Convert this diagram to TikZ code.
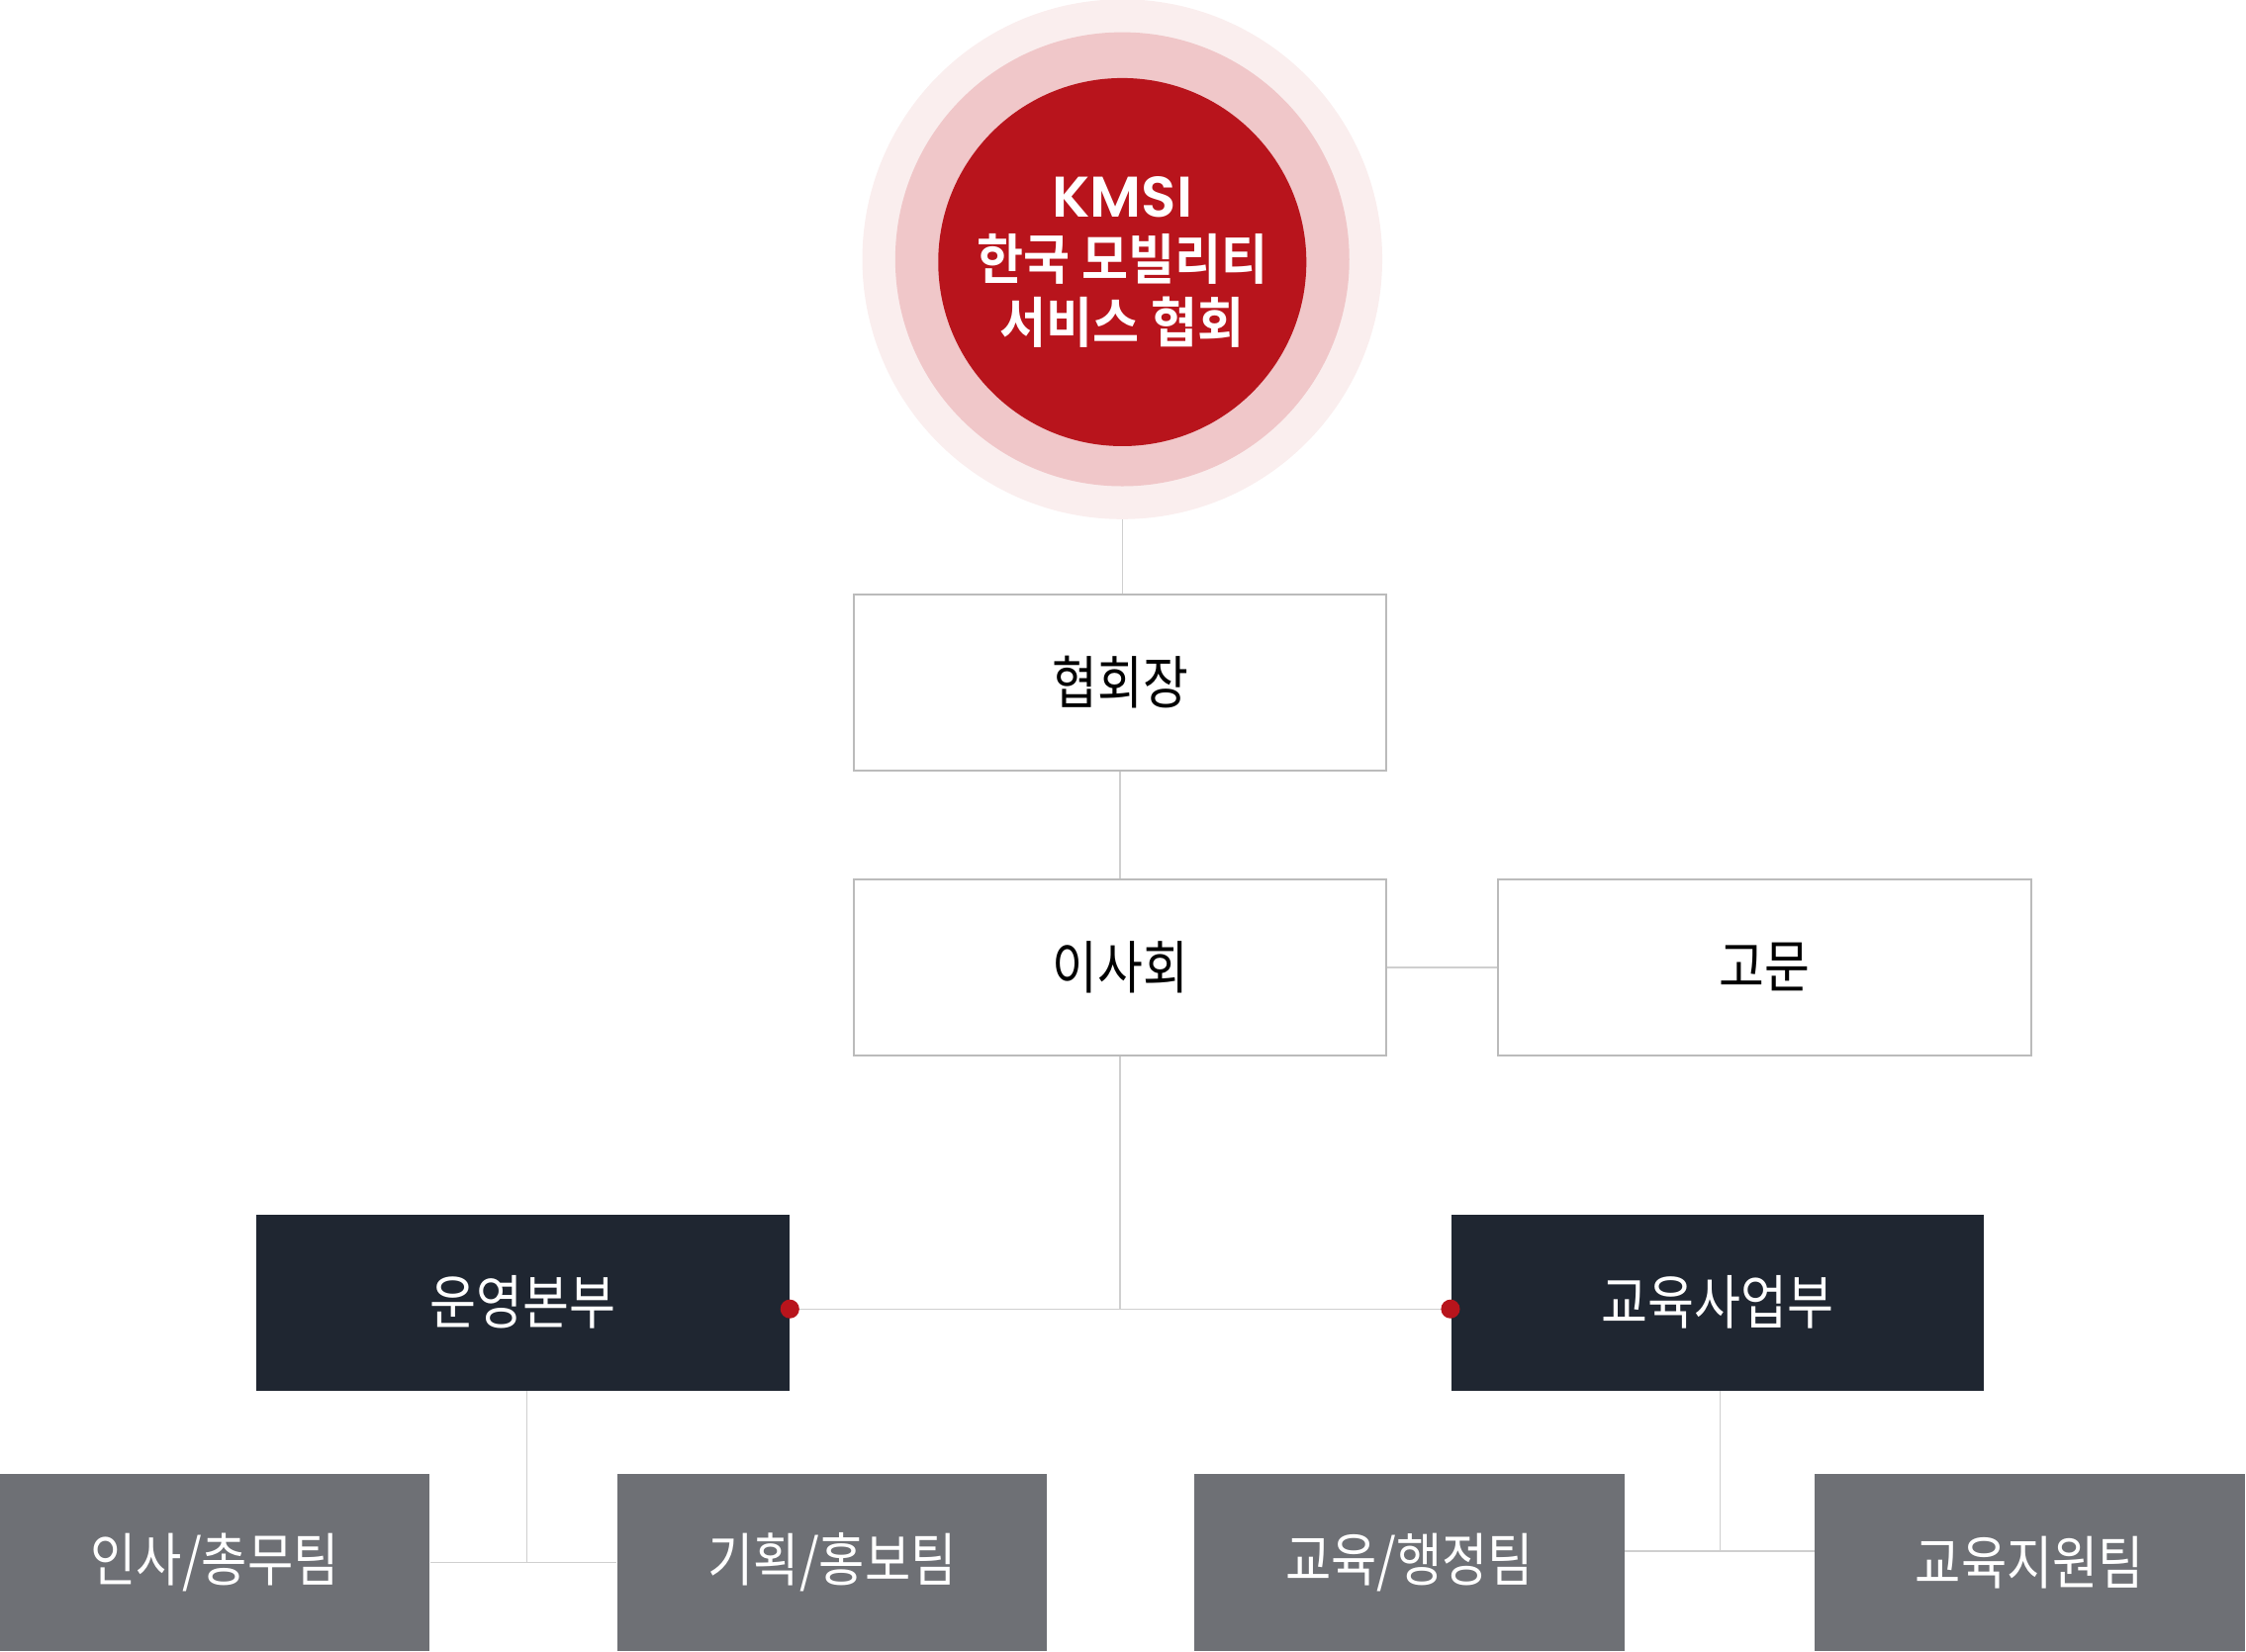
\documentclass[tikz,border=0pt]{standalone}
\usepackage{fontspec}
\setmainfont{Noto Sans CJK KR}[FakeStretch=0.86]
\newfontfamily\latinbold{Poppins}[UprightFont=* SemiBold]
\newfontfamily\circlefont{Noto Sans CJK KR}[UprightFont=* Bold, FakeStretch=0.93]
\usepackage{tikz}
\usetikzlibrary{calc,positioning}
\definecolor{kmsired}{HTML}{B8141C}
\definecolor{ringmid}{HTML}{F0C7C9}
\definecolor{ringout}{HTML}{FAEEEE}
\definecolor{deptdark}{HTML}{1F2631}
\definecolor{teamgray}{HTML}{6E7075}
\definecolor{boxline}{HTML}{BBBBBB}
\definecolor{wire}{HTML}{CFCFCF}
\tikzset{
  officebox/.style={draw=boxline, line width=0.7pt, fill=white, minimum width=186pt, minimum height=61.5pt, font=\fontsize{20}{22}\selectfont, text=black},
  deptbox/.style={fill=deptdark, minimum width=186pt, minimum height=61.5pt, font=\fontsize{20.5}{22}\selectfont, text=white},
  teambox/.style={fill=teamgray, minimum width=150pt, minimum height=62pt, font=\fontsize{20.2}{22}\selectfont, text=white},
  wireline/.style={draw=wire, line width=0.45pt},
  reddot/.style={fill=kmsired}
}

\begin{document}
\begin{tikzpicture}[x=0.5pt, y=-0.5pt]
			%%%%% START %%%%%
			\useasboundingbox (0, 0) rectangle (1568, 1153.5);
			
			\node[circle, fill=ringout, minimum size=181.5pt, inner sep=0pt] (halo) at (783.5, 181) {};
			\node[circle, fill=ringmid, minimum size=158.5pt, inner sep=0pt] (ring) at (783.5, 181) {};
			\node[circle, fill=kmsired, minimum size=128.5pt, inner sep=0pt, text=white, align=center,
			      font=\circlefont\fontsize{19}{22}\selectfont] (kmsi) at (783.5, 183)
			      {{\latinbold\fontsize{20}{22}\selectfont KMSI}\\한국 모빌리티\\서비스 협회};
			
			\node[officebox] (chair) at (782, 476.5) {협회장};
			\node[officebox] (board) at (782, 675.5) {이사회};
			\node[officebox] (advisor) at (1232, 675.5) {고문};
			
			\node[deptbox] (ops) at (365, 909.5) {운영본부};
			\node[deptbox] (edu) at (1199, 909.5) {교육사업부};
			
			\node[teambox] (hr) at (150, 1091) {인사/총무팀};
			\node[teambox] (plan) at (581, 1091) {기획/홍보팀};
			\node[teambox] (eduadmin) at (984, 1091) {교육/행정팀};
			\node[teambox] (edusupport) at (1417, 1091) {교육지원팀};
			
			\coordinate (hub) at (782, 914);
			\coordinate (opsjoin) at (368, 1091);
			\coordinate (edujoin) at (1201, 1083);
			
			\draw[wireline] (halo.south) -- (halo.south |- chair.north);
			\draw[wireline] (chair.south) -- (board.north);
			\draw[wireline] (board.east) -- (advisor.west);
			\draw[wireline] (board.south) -- (hub);
			\draw[wireline] (ops.east |- hub) -- (edu.west |- hub);
			
			\draw[wireline] (ops.south -| opsjoin) -- (opsjoin);
			\draw[wireline] (hr.east) -- (plan.west);
			\draw[wireline] (edu.south -| edujoin) -- (edujoin);
			\draw[wireline] (eduadmin.east |- edujoin) -- (edusupport.west |- edujoin);
			
			\fill[reddot] (ops.east |- hub) circle (3.3pt);
			\fill[reddot] (edu.west |- hub) circle (3.3pt);
			%%%%% END %%%%%
\end{tikzpicture}
\end{document}
